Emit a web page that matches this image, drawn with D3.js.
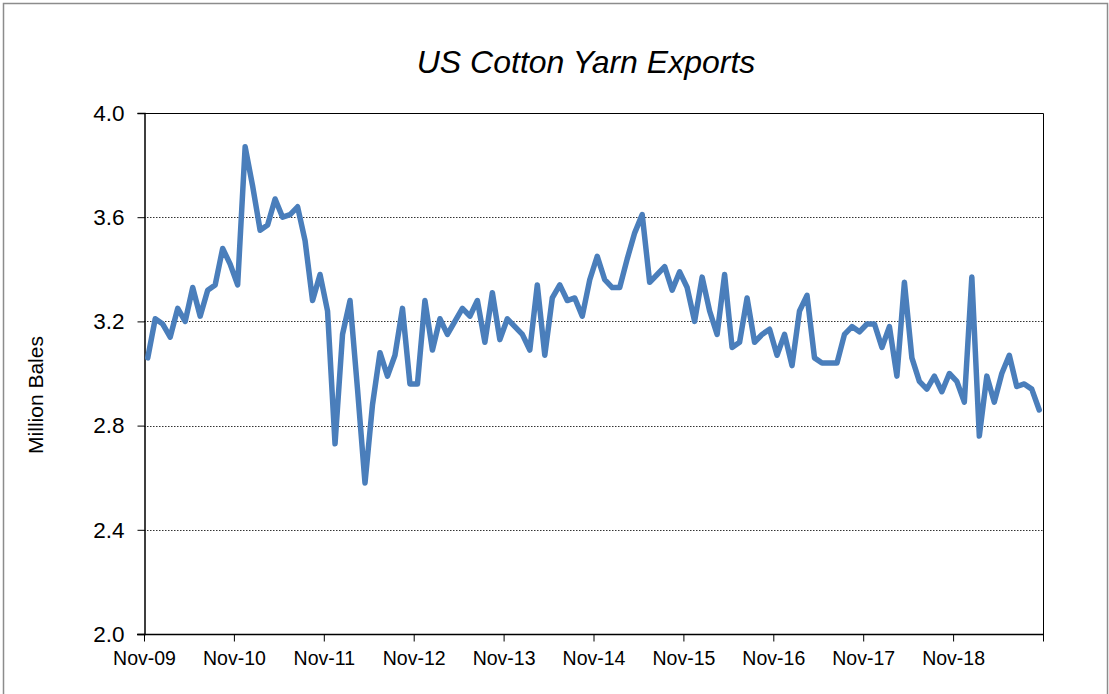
<!DOCTYPE html>
<html>
  <head>
    <title>US Cotton Yarn Exports</title>
    <style>
      body { margin: 0; background: #fff; }
      text { font-family: "Liberation Sans", Arial, sans-serif; }
    </style>
  </head>
  <body>
    <script src="https://cdnjs.cloudflare.com/ajax/libs/d3/7.8.5/d3.min.js"></script>
    <script>
      // monthly exports, Nov-09 .. Oct-19 (million bales)
      let exportsMB = [
        3.06, 3.21, 3.19, 3.14, 3.25, 3.20, 3.33, 3.22, 3.32, 3.34, 3.48, 3.42,
        3.34, 3.87, 3.72, 3.55, 3.57, 3.67, 3.60, 3.61, 3.64, 3.51, 3.28, 3.38,
        3.24, 2.73, 3.15, 3.28, 2.94, 2.58, 2.88, 3.08, 2.99, 3.07, 3.25, 2.96,
        2.96, 3.28, 3.09, 3.21, 3.15, 3.20, 3.25, 3.22, 3.28, 3.12, 3.31, 3.13,
        3.21, 3.18, 3.15, 3.09, 3.34, 3.07, 3.29, 3.34, 3.28, 3.29, 3.22, 3.36,
        3.45, 3.36, 3.33, 3.33, 3.44, 3.54, 3.61, 3.35, 3.38, 3.41, 3.32, 3.39,
        3.33, 3.20, 3.37, 3.24, 3.15, 3.38, 3.10, 3.12, 3.29, 3.12, 3.15, 3.17,
        3.07, 3.15, 3.03, 3.24, 3.30, 3.06, 3.04, 3.04, 3.04, 3.15, 3.18, 3.16,
        3.19, 3.19, 3.10, 3.18, 2.99, 3.35, 3.06, 2.97, 2.94, 2.99, 2.93, 3.00,
        2.97, 2.89, 3.37, 2.76, 2.99, 2.89, 3.00, 3.07, 2.95, 2.96, 2.94, 2.86
      ];
      let months = d3.timeMonth.range(new Date(2009, 10, 1), new Date(2019, 10, 1));
      let tickLabels = ['Nov-09', 'Nov-10', 'Nov-11', 'Nov-12', 'Nov-13',
                        'Nov-14', 'Nov-15', 'Nov-16', 'Nov-17', 'Nov-18'];
      let yTicks = [2.0, 2.4, 2.8, 3.2, 3.6, 4.0];

      let W = 1109, H = 694;
      let pLeft = 144, pRight = 1043, pTop = 113, pBottom = 634;

      let svg = d3.select('body')
                  .append('svg')
                  .attr('width', W)
                  .attr('height', H);

      // outer chart frame
      svg.append('rect')
         .attr('x', 3.5).attr('y', 3.5)
         .attr('width', W - 5).attr('height', H + 10)
         .attr('fill', 'none')
         .attr('stroke', '#8c8c8c')
         .attr('stroke-width', 1.5);

      let xScale = d3.scaleBand()
                     .domain(months)
                     .range([pLeft, pRight]);

      let yScale = d3.scaleLinear()
                     .domain([2.0, 4.0])
                     .range([pBottom, pTop]);

      // gridlines
      svg.append('g')
         .selectAll('line')
         .data(yTicks.filter(d => d > 2.0 && d < 4.0))
         .enter()
           .append('line')
           .attr('x1', pLeft).attr('x2', pRight)
           .attr('y1', d => Math.round(yScale(d)) + 0.5)
           .attr('y2', d => Math.round(yScale(d)) + 0.5)
           .attr('stroke', '#333')
           .attr('stroke-width', 1)
           .attr('stroke-dasharray', '1.5 1.5');

      // plot box top/right
      svg.append('path')
         .attr('d', `M${pLeft},${pTop + 0.5}H${pRight + 0.5}V${pBottom}`)
         .attr('fill', 'none')
         .attr('stroke', '#000')
         .attr('stroke-width', 1);

      // y axis
      let yAxis = d3.axisLeft(yScale)
                    .tickValues(yTicks)
                    .tickFormat(d3.format('.1f'))
                    .tickSize(7)
                    .tickPadding(13);
      let gy = svg.append('g')
                  .attr('transform', `translate(${pLeft + 0.5},0)`)
                  .call(yAxis);
      gy.select('.domain').attr('stroke', '#000').attr('stroke-width', 1.5);
      gy.selectAll('.tick line').attr('stroke', '#000');
      gy.selectAll('text')
        .attr('font-size', 22.5)
        .attr('fill', '#000')
        .style('font-family', '"Liberation Sans", Arial, sans-serif');

      // x axis: ticks at each November band start, plus the right end
      let tickMonths = months.filter(m => m.getMonth() === 10);
      let xTickPos = tickMonths.map(m => xScale(m)).concat([pRight]);
      let xTickScale = d3.scaleOrdinal()
                         .domain(d3.range(xTickPos.length))
                         .range(xTickPos);
      let xAxis = d3.axisBottom(xTickScale)
                    .tickValues(d3.range(xTickPos.length))
                    .tickFormat(i => tickLabels[i] || '')
                    .tickSize(7)
                    .tickPadding(10)
                    .tickSizeOuter(0);
      let gx = svg.append('g')
                  .attr('transform', `translate(0,${pBottom + 0.5})`)
                  .call(xAxis);
      gx.select('.domain').remove();
      gx.append('line')
        .attr('x1', pLeft - 7).attr('x2', pRight + 1)
        .attr('stroke', '#000').attr('stroke-width', 1.5);
      gx.selectAll('.tick line').attr('stroke', '#000');
      gx.selectAll('text')
        .attr('font-size', 19.5)
        .attr('fill', '#000')
        .style('font-family', '"Liberation Sans", Arial, sans-serif');

      // series line
      let line = d3.line()
                   .x((d, i) => xScale(months[i]) + xScale.bandwidth() / 2)
                   .y(d => yScale(d));

      svg.append('path')
         .attr('d', line(exportsMB))
         .attr('fill', 'none')
         .attr('stroke', '#4a7ebb')
         .attr('stroke-width', 5.5)
         .attr('stroke-linejoin', 'round')
         .attr('stroke-linecap', 'round');

      // title
      svg.append('text')
         .attr('x', 586)
         .attr('y', 73)
         .attr('text-anchor', 'middle')
         .attr('font-size', 32)
         .attr('font-style', 'italic')
         .text('US Cotton Yarn Exports');

      // y axis label
      svg.append('text')
         .attr('transform', 'translate(43,395) rotate(-90)')
         .attr('text-anchor', 'middle')
         .attr('font-size', 21)
         .text('Million Bales');
    </script>
  </body>
</html>
